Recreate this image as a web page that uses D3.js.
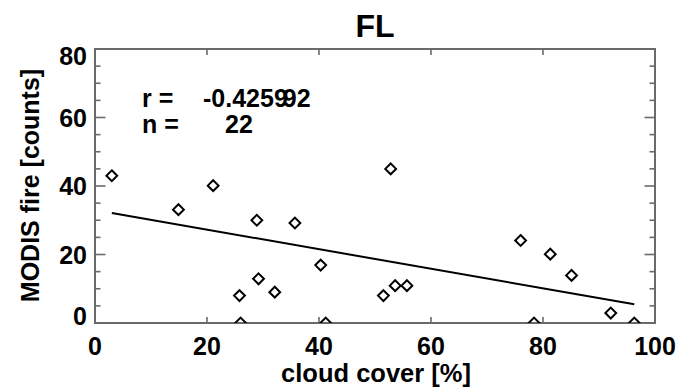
<!DOCTYPE html>
<html>
<head>
<meta charset="utf-8">
<script src="https://cdn.jsdelivr.net/npm/d3@7"></script>
<style>
  html, body { margin: 0; padding: 0; background: #fff; }
  svg text { font-family: "Liberation Sans", Arial, Helvetica, sans-serif; font-weight: bold; fill: #000; }
</style>
</head>
<body>
<svg id="chart" width="683" height="392"></svg>
<script>
// ---- data ----
const title = "FL";
const xLabel = "cloud cover [%]";
const yLabel = "MODIS fire [counts]";
const cloudCover = [3, 14.9, 21.1, 28.9, 35.7, 25.8, 29.2, 32.1, 40.3, 26, 41.2,
                    52.8, 51.5, 53.6, 55.7, 76, 81.3, 85.1, 92.1, 78.4, 96.3];
const fireCounts = [43, 33.1, 40.1, 30, 29.2, 8, 12.9, 9, 16.9, 0, 0,
                    45, 8, 10.9, 10.9, 24.1, 20.1, 13.9, 2.9, 0, 0];
const fitX = [3, 96.3];
const fitY = [32.1, 5.5];
const xTicks = [0, 20, 40, 60, 80, 100];
const yTicks = [0, 20, 40, 60, 80];
const yMinorTicks = [5, 10, 15, 25, 30, 35, 45, 50, 55, 65, 70, 75];
const statR = "-0.4259", statRTail = "92";
const statN = "22";

// ---- layout ----
const L = 95, R = 655, T = 49, B = 323;
const svg = d3.select("#chart");
const x = d3.scaleLinear().domain([0, 100]).range([L, R]);
const y = d3.scaleLinear().domain([0, 80]).range([B, T]);
const axisColor = "#6a6a6a";

svg.append("defs").append("clipPath").attr("id", "plotclip")
  .append("rect").attr("x", L).attr("y", T).attr("width", R - L).attr("height", B - T);

// ticks
const g = svg.append("g");
xTicks.filter(d => d > 0 && d < 100).forEach(d => {
  g.append("line").attr("x1", x(d)).attr("x2", x(d)).attr("y1", B).attr("y2", B - 6)
    .attr("stroke", axisColor).attr("stroke-width", 1.6);
  g.append("line").attr("x1", x(d)).attr("x2", x(d)).attr("y1", T).attr("y2", T + 6)
    .attr("stroke", axisColor).attr("stroke-width", 1.6);
});
yTicks.filter(d => d > 0 && d < 80).forEach(d => {
  [[L, L + 10.5], [R, R - 10.5]].forEach(([a, b]) =>
    g.append("line").attr("x1", a).attr("x2", b).attr("y1", y(d)).attr("y2", y(d))
      .attr("stroke", axisColor).attr("stroke-width", 1.6));
});
yMinorTicks.forEach(d => {
  [[L, L + 5.5], [R, R - 5.5]].forEach(([a, b]) =>
    g.append("line").attr("x1", a).attr("x2", b).attr("y1", y(d)).attr("y2", y(d))
      .attr("stroke", axisColor).attr("stroke-width", 1.6));
});

// frame
svg.append("rect").attr("x", L).attr("y", T).attr("width", R - L).attr("height", B - T)
  .attr("fill", "none").attr("stroke", axisColor).attr("stroke-width", 2);

// tick labels
svg.append("g").selectAll("text").data(xTicks).join("text")
  .attr("x", d => x(d)).attr("y", 355).attr("text-anchor", "middle")
  .attr("font-size", 25).text(d => d);
svg.append("g").selectAll("text").data(yTicks).join("text")
  .attr("x", 87).attr("y", d => y(d) + (d === 0 ? -7 : d === 80 ? 7 : 0))
  .attr("dy", "0.36em").attr("text-anchor", "end")
  .attr("font-size", 25).text(d => d);

// titles
svg.append("text").attr("x", 375).attr("y", 36.5).attr("text-anchor", "middle")
  .attr("font-size", 32).text(title);
svg.append("text").attr("x", 376).attr("y", 382).attr("text-anchor", "middle")
  .attr("font-size", 25.5).text(xLabel);
svg.append("text").attr("transform", "translate(38.5,185.5) rotate(-90)")
  .attr("text-anchor", "middle").attr("font-size", 25).text(yLabel);

// regression line
const plot = svg.append("g").attr("clip-path", "url(#plotclip)");
plot.append("path")
  .datum(fitX.map((d, i) => [d, fitY[i]]))
  .attr("d", d3.line().x(d => x(d[0])).y(d => y(d[1])))
  .attr("fill", "none").attr("stroke", "#000").attr("stroke-width", 2);

// diamonds
const diamond = "M0,-5.4L5.4,0L0,5.4L-5.4,0Z";
plot.selectAll("path.pt").data(cloudCover.map((d, i) => [d, fireCounts[i]])).join("path")
  .attr("class", "pt")
  .attr("transform", d => `translate(${x(d[0])},${y(d[1])})`)
  .attr("d", diamond).attr("fill", "none").attr("stroke", "#000").attr("stroke-width", 2);

// statistics text
const fs = 25;
svg.append("text").attr("x", 142).attr("y", 106.5).attr("font-size", fs).text("r =");
const rt = svg.append("text").attr("x", 203).attr("y", 106.5).attr("font-size", fs);
rt.append("tspan").text(statR);
rt.append("tspan").attr("dx", -5).text(statRTail);
svg.append("text").attr("x", 142).attr("y", 133.3).attr("font-size", fs).text("n =");
svg.append("text").attr("x", 225).attr("y", 133.3).attr("font-size", fs).text(statN);
</script>
</body>
</html>
